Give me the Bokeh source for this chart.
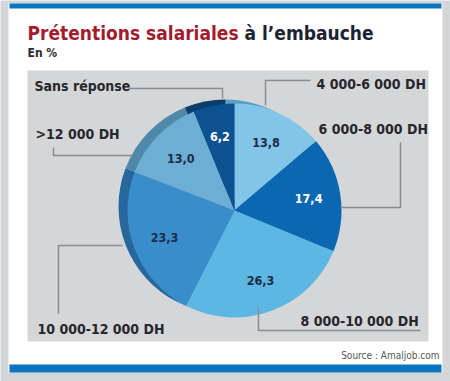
import math
from bokeh.plotting import figure
from bokeh.models import Range1d, ColumnDataSource
from bokeh.core.properties import value
from bokeh.embed import file_html
from bokeh.resources import INLINE

# ---- data ----
categories = ["4 000-6 000 DH", "6 000-8 000 DH", "8 000-10 000 DH",
              "10 000-12 000 DH", ">12 000 DH", "Sans réponse"]
values = [13.8, 17.4, 26.3, 23.3, 13.0, 6.2]
title_red = "Prétentions salariales"
title_dark = "à l’embauche"
subtitle = "En %"
source_note = "Source : Amaljob.com"

# ---- styles ----
FONT = value("DejaVu Sans Condensed")
colors = ["#82c5e8", "#0b67b1", "#5cb7e2", "#3a8dcb", "#6eaed4", "#0c5190"]
shadow_colors = ["#5b9fc4", "#0a4f88", "#3f92bd", "#27679c", "#4f88a8", "#0a3c6c"]
num_colors = ["#1d2b4a", "#ffffff", "#1d2b4a", "#1d2b4a", "#1d2b4a", "#ffffff"]

W, H = 450, 381


def Y(py):
    return H - py


p = figure(width=W, height=H, output_backend="svg", toolbar_location=None,
           x_range=Range1d(0, W), y_range=Range1d(0, H), min_border=0,
           x_axis_location=None, y_axis_location=None)
p.grid.visible = False
p.outline_line_color = None
p.background_fill_color = "#d4d5d7"
p.border_fill_color = "#d4d5d7"

# panels and bars
p.quad(left=[8], right=[442], top=[Y(3)], bottom=[Y(372)], fill_color="white", line_color=None)
p.quad(left=[9], right=[441], top=[Y(3)], bottom=[Y(8)], fill_color="#0a74c0", line_color=None)
p.quad(left=[9], right=[441], top=[Y(364)], bottom=[Y(372)], fill_color="#0a74c0", line_color=None)
p.quad(left=[27], right=[428], top=[Y(70)], bottom=[Y(341)], fill_color="#d5d6d8", line_color=None)

# title
p.text(x=[27], y=[Y(32)], text=[title_red], text_font=FONT,
       text_font_style="bold", text_font_size="19px", text_color="#a11d2d",
       text_baseline="alphabetic", text_align="left")
p.text(x=[244], y=[Y(32)], text=[title_dark], text_font=FONT,
       text_font_style="bold", text_font_size="19px", text_color="#1b2333",
       text_baseline="alphabetic", text_align="left")
p.text(x=[27], y=[Y(52)], text=[subtitle], text_font=FONT,
       text_font_style="bold", text_font_size="12px", text_color="#2a2a30",
       text_baseline="middle", text_align="left")
p.text(x=[439], y=[Y(355)], text=[source_note], text_font=FONT,
       text_font_size="10px", text_color="#555555",
       text_baseline="middle", text_align="right")

# pie geometry
cx, cy, R = 234, Y(210), 107
sdx, sdy = -9, 4
total = sum(values)
starts, ends, mids = [], [], []
c = 0.0
for v in values:
    c0 = c / total
    c += v
    c1 = c / total
    starts.append(math.pi / 2 - 2 * math.pi * c1)
    ends.append(math.pi / 2 - 2 * math.pi * c0)
    mids.append(math.pi / 2 - 2 * math.pi * (c0 + c1) / 2)

src = ColumnDataSource(dict(start=starts, end=ends, color=colors, shadow=shadow_colors))
p.wedge(x=cx + sdx, y=cy + sdy, radius=R, start_angle="start", end_angle="end",
        fill_color="shadow", line_color=None, source=src)
p.wedge(x=cx, y=cy, radius=R, start_angle="start", end_angle="end",
        fill_color="color", line_color=None, source=src)

rl = 75
lab = ColumnDataSource(dict(
    x=[cx + rl * math.cos(a) for a in mids],
    y=[cy + rl * math.sin(a) for a in mids],
    t=[f"{v:.1f}".replace(".", ",") for v in values],
    c=num_colors))
p.text(x="x", y="y", text="t", text_color="c", source=lab,
       text_font=FONT, text_font_style="bold",
       text_font_size="12.5px", text_align="center", text_baseline="middle")

# leader lines (page coordinates)
leaders = [
    ([310, 265, 265], [80, 80, 105]),
    ([400, 400, 340], [142, 207, 207]),
    ([258, 258, 420], [307, 330, 330]),
    ([58, 58, 122], [313, 245, 245]),
    ([53, 53, 132], [147, 155, 155]),
    ([128, 222, 222], [88, 88, 98]),
]
p.multi_line(xs=[l[0] for l in leaders], ys=[[Y(v) for v in l[1]] for l in leaders],
             line_color="#8a8c90", line_width=1.5)

label_x = [316, 318, 300, 37, 35, 34]
label_y = [83, 128, 320, 328, 133, 85]
p.text(x=label_x, y=[Y(v) for v in label_y], text=categories,
       text_font=FONT, text_font_style="bold",
       text_font_size="14px", text_color="#26262c",
       text_baseline="middle", text_align="left")

html = file_html(p, INLINE)
open("out.html", "w").write(html)
